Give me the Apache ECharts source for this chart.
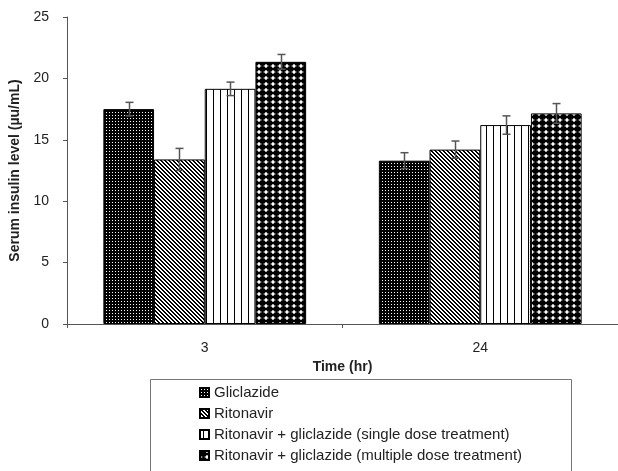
<!DOCTYPE html>
<html>
<head>
<meta charset="utf-8">
<script src="https://cdn.jsdelivr.net/npm/echarts@6/dist/echarts.min.js"></script>
<style>html,body{margin:0;padding:0;background:#fff}#c{width:618px;height:471px}</style>
</head>
<body>
<div id="c"></div>
<script>
const categories = ['3', '24'];
const seriesNames = [
  'Gliclazide',
  'Ritonavir',
  'Ritonavir + gliclazide (single dose treatment)',
  'Ritonavir + gliclazide (multiple dose treatment)'
];
const gliclazide = [17.5, 13.3];
const ritonavir = [13.4, 14.2];
const singleDose = [19.15, 16.2];
const multipleDose = [21.35, 17.15];
const gliclazideErr = [0.55, 0.65];
const ritonavirErr = [0.9, 0.7];
const singleDoseErr = [0.55, 0.75];
const multipleDoseErr = [0.6, 0.8];
const yTicks = [0, 5, 10, 15, 20, 25];

const values = [gliclazide, ritonavir, singleDose, multipleDose];
const errs = [gliclazideErr, ritonavirErr, singleDoseErr, multipleDoseErr];

function makePattern(w, h, draw) {
  const c = document.createElement('canvas');
  c.width = w; c.height = h;
  const ctx = c.getContext('2d');
  draw(ctx, w, h);
  return { image: c, repeat: 'repeat' };
}
const patDots = makePattern(3, 3, (ctx, w, h) => {
  ctx.fillStyle = '#000'; ctx.fillRect(0, 0, w, h);
  ctx.fillStyle = '#fff'; ctx.fillRect(1, 1, 1, 1);
});
const patHatch = makePattern(4, 4, (ctx, w, h) => {
  ctx.fillStyle = '#fff'; ctx.fillRect(0, 0, w, h);
  ctx.fillStyle = '#000';
  for (let i = 0; i < 4; i++) { ctx.fillRect(i, i, 1, 1); ctx.fillRect((i + 1) % 4, i, 1, 1); }
});
const patVert = makePattern(7, 4, (ctx, w, h) => {
  ctx.fillStyle = '#fff'; ctx.fillRect(0, 0, w, h);
  ctx.fillStyle = '#000'; ctx.fillRect(3, 0, 1, h);
});
const patDiamond = makePattern(7, 6, (ctx, w, h) => {
  ctx.fillStyle = '#fff'; ctx.fillRect(0, 0, w, h);
  ctx.fillStyle = '#000';
  ctx.beginPath(); ctx.ellipse(3.5, 3, 3.2, 2.9, 0, 0, Math.PI * 2); ctx.fill();
  ctx.fillRect(0, 2, w, 2);
  ctx.fillRect(3, 0, 1, h);
});
const patterns = [patDots, patHatch, patVert, patDiamond];

const BAR_RATIO = 0.184;

const barSeries = seriesNames.map((name, i) => ({
  name: name,
  type: 'bar',
  data: values[i],
  barWidth: (BAR_RATIO * 100) + '%',
  barGap: '0%',
  itemStyle: { color: patterns[i], borderColor: '#000', borderWidth: 1 },
  emphasis: { disabled: true },
  animation: false
}));

const errData = [];
values.forEach((arr, si) => arr.forEach((v, ci) => errData.push([ci, v, errs[si][ci], si])));

const errSeries = {
  type: 'custom',
  name: 'err',
  data: errData,
  z: 10,
  animation: false,
  renderItem: function (params, api) {
    const ci = api.value(0), v = api.value(1), e = api.value(2), si = api.value(3);
    const band = api.size([1, 0])[0];
    const c = api.coord([ci, v]);
    const x = Math.round(c[0] + (si - 1.5) * band * BAR_RATIO) + 0.5;
    const top = api.coord([ci, v + e])[1];
    const bot = api.coord([ci, v - e])[1];
    const st = { stroke: '#555', lineWidth: 1.5 };
    return {
      type: 'group',
      children: [
        { type: 'line', shape: { x1: x, y1: top, x2: x, y2: bot }, style: st },
        { type: 'line', shape: { x1: x - 4, y1: top, x2: x + 4, y2: top }, style: st },
        { type: 'line', shape: { x1: x - 4, y1: bot, x2: x + 4, y2: bot }, style: st }
      ]
    };
  }
};

const chart = echarts.init(document.getElementById('c'), null, { renderer: 'canvas' });
chart.setOption({
  animation: false,
  backgroundColor: '#fff',
  textStyle: { fontFamily: 'Liberation Sans, Arial, sans-serif' },
  grid: { left: 67, right: 0, top: 17, bottom: 147, containLabel: false },
  graphic: [{
    type: 'rect',
    shape: { x: 150.5, y: 379.5, width: 421, height: 120 },
    style: { fill: 'none', stroke: '#777', lineWidth: 1 },
    silent: true
  }],
  legend: {
    orient: 'vertical',
    left: 194,
    top: 380,
    data: seriesNames,
    itemWidth: 9,
    itemHeight: 9,
    itemGap: 6,
    icon: 'rect',
    selectedMode: false,
    textStyle: { fontSize: 15, color: '#222', fontFamily: 'Liberation Sans, Arial, sans-serif' }
  },
  xAxis: {
    type: 'category',
    data: categories,
    name: 'Time (hr)',
    nameLocation: 'middle',
    nameGap: 28,
    nameTextStyle: { fontSize: 14, fontWeight: 'bold', color: '#222' },
    axisLine: { lineStyle: { color: '#555', width: 1 } },
    axisTick: { show: true, length: 4, lineStyle: { color: '#555' } },
    axisLabel: { fontSize: 14, color: '#222', margin: 17 },
    splitLine: { show: false }
  },
  yAxis: {
    type: 'value',
    min: 0,
    max: 25,
    interval: 5,
    name: 'Serum insulin level (\u00b5u/mL)',
    nameLocation: 'middle',
    nameGap: 41,
    nameTextStyle: { fontSize: 14, fontWeight: 'bold', color: '#222' },
    axisLine: { show: true, lineStyle: { color: '#555', width: 1 } },
    axisTick: { show: true, length: 4, lineStyle: { color: '#555' } },
    axisLabel: { fontSize: 14, color: '#222', margin: 18, customValues: yTicks },
    splitLine: { show: false }
  },
  series: barSeries.concat([errSeries])
});
</script>
</body>
</html>
